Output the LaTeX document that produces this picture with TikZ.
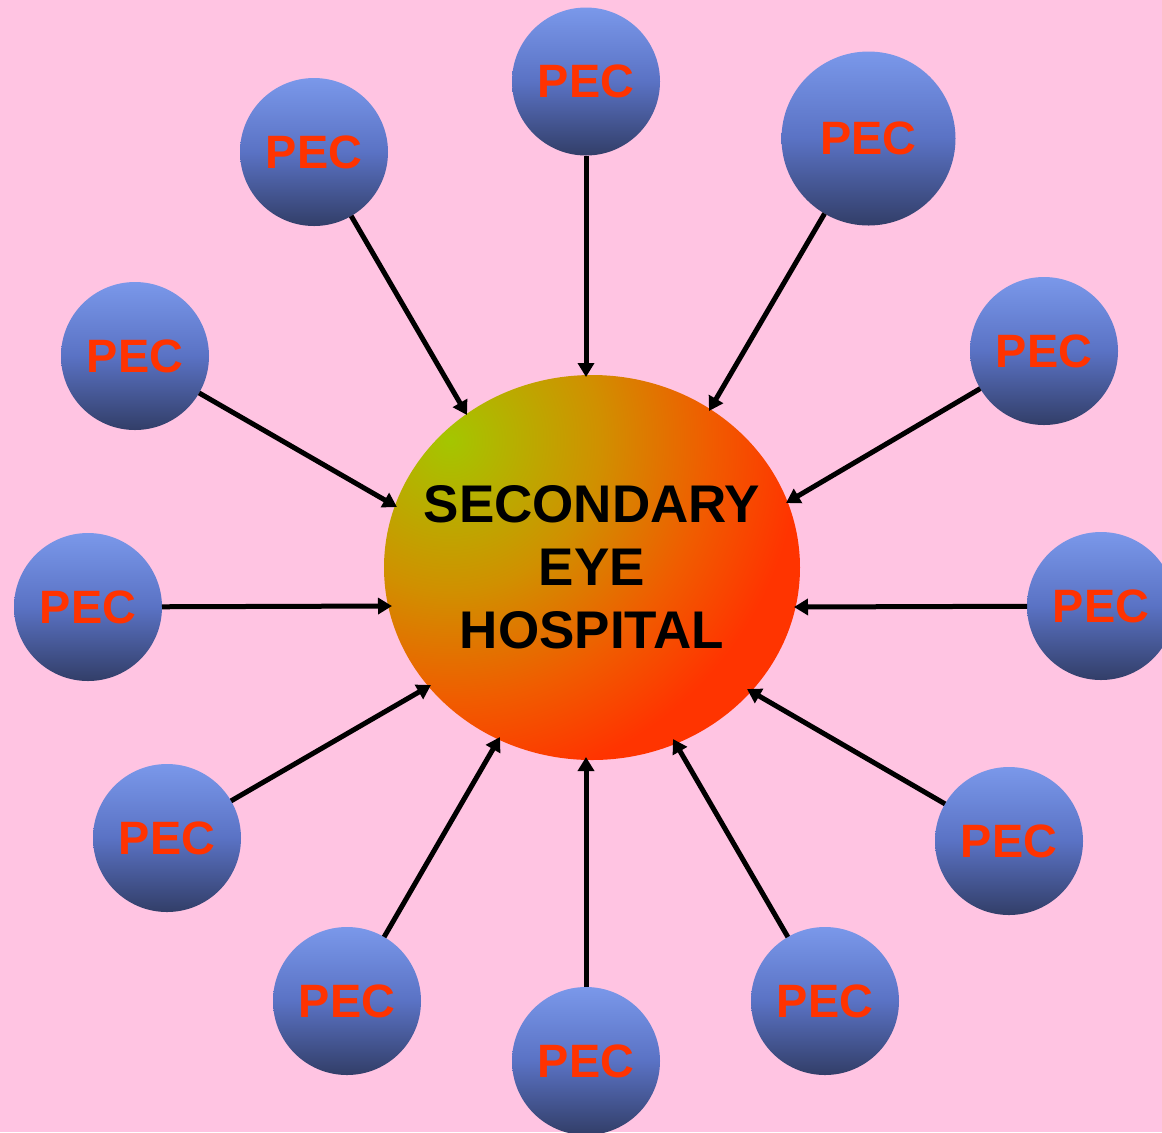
\documentclass[tikz,border=0pt]{standalone}
\usepackage{fontspec}
\setmainfont{Liberation Sans}
\usetikzlibrary{shapes.geometric,arrows.meta}
\definecolor{bgpink}{RGB}{255,196,226}
\definecolor{pectop}{RGB}{122,152,234}
\definecolor{pecmid}{RGB}{90,114,196}
\definecolor{pecbot}{RGB}{50,62,104}
\definecolor{pecred}{RGB}{255,51,0}
\definecolor{hubgreen}{RGB}{164,198,0}
\definecolor{hubolive}{RGB}{208,144,0}
\definecolor{huborange}{RGB}{240,92,0}
\definecolor{hubred}{RGB}{255,52,0}
\pgfdeclareradialshading{hubrad}{\pgfpointorigin}{color(0bp)=(hubgreen); color(8.33bp)=(hubolive); color(14.44bp)=(huborange); color(19.44bp)=(hubred); color(25bp)=(hubred); color(50bp)=(hubred)}
\tikzset{
  pec/.style={circle, minimum size=148pt*0.5, inner sep=0pt, outer sep=0pt,
    top color=pectop, bottom color=pecbot, middle color=pecmid,
    text=pecred, font=\fontsize{23.4pt}{26pt}\selectfont\bfseries},
  pecbig/.style={pec, minimum size=174pt*0.5},
  hub/.style={ellipse, minimum width=208pt, minimum height=192.5pt, inner sep=0pt, outer sep=0pt},
  hubtext/.style={align=center, inner sep=0pt,
    font=\fontsize{26.5pt}{31.5pt}\selectfont\bfseries},
  link/.style={line width=2.5pt, -{Triangle[length=7pt,width=8pt]}}
}
\begin{document}
\begin{tikzpicture}[x=0.5pt,y=-0.5pt]
\fill[bgpink] (0,0) rectangle (1162,1132);
\useasboundingbox (0,0) rectangle (1162,1132);
\begin{scope}
  \clip (592,567.5) ellipse [x radius=208, y radius=192.5];
  \shade[shading=hubrad] (450,440) circle (450);
\end{scope}
\node[hub] (hub) at (592,567.5) {};
\node[hubtext] (hubtext) at (hub) {SECONDARY\\EYE\\HOSPITAL};
\node[pec] (p1) at (586,81.5) {PEC};
\node[pec] (p2) at (314,152) {PEC};
\node[pecbig] (p3) at (868.5,138.5) {PEC};
\node[pec] (p4) at (135,356) {PEC};
\node[pec] (p5) at (1044,351) {PEC};
\node[pec] (p6) at (88,607) {PEC};
\node[pec] (p7) at (1101,606) {PEC};
\node[pec] (p8) at (167,838) {PEC};
\node[pec] (p9) at (1009,841) {PEC};
\node[pec] (p10) at (347,1001) {PEC};
\node[pec] (p11) at (586,1061) {PEC};
\node[pec] (p12) at (825,1001) {PEC};
\coordinate (h1) at (586,377);
\coordinate (h2) at (467,415);
\coordinate (h3) at (709,411);
\coordinate (h4) at (397,507);
\coordinate (h5) at (786,503);
\coordinate (h6) at (392,606);
\coordinate (h7) at (794,607);
\coordinate (h8) at (431,685);
\coordinate (h9) at (747,689);
\coordinate (h10) at (500,737);
\coordinate (h11) at (586,757);
\coordinate (h12) at (673,739);
\foreach \i in {1,...,12} {\draw[link] (p\i) -- (h\i);}
\end{tikzpicture}
\end{document}
